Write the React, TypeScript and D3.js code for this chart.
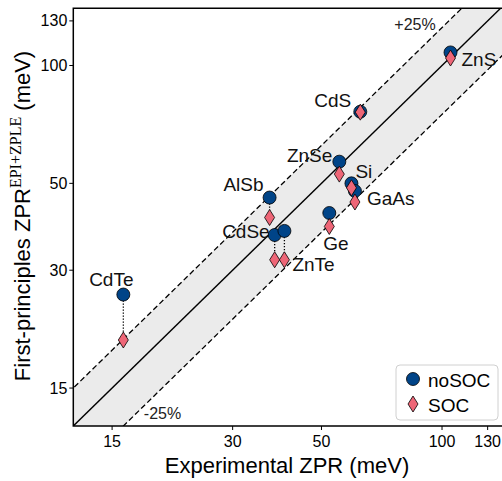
import React from 'react';
import * as d3 from 'd3';

// values (meV)
const materials = ['ZnS', 'CdS', 'ZnSe', 'Si', 'GaAs', 'Ge', 'AlSb', 'CdSe', 'ZnTe', 'CdTe'];
const expZpr = [105, 62.5, 55.4, 59.4, 60.6, 52.3, 37.1, 38.2, 40.4, 16.0];
const noSocZpr = [108, 76.2, 56.8, 50.0, 47.8, 42.0, 46.0, 36.9, 37.8, 26.0];
const socZpr = [104.5, 76, 52.8, 48.7, 44.8, 38.8, 40.9, 31.9, 31.9, 19.9];
const tickValues = [15, 30, 50, 100, 130];
const legendLabels = ['noSOC', 'SOC'];

// label placement relative to the noSOC marker (pixels)
const labelPos: Record<string, [number, number, string]> = {
  ZnS: [11, 7, 'start'],
  CdS: [-9, -11, 'end'],
  ZnSe: [-7, -6, 'end'],
  Si: [4, -12, 'start'],
  GaAs: [12, 7, 'start'],
  Ge: [-6, 30, 'start'],
  AlSb: [-6, -13, 'end'],
  CdSe: [-5, -4, 'end'],
  ZnTe: [8, 34, 'start'],
  CdTe: [-12, -15, 'middle'],
};

const BLUE = '#004488';
const PINK = '#ee6677';
const FONT = '"Liberation Sans", Arial, sans-serif';

const diamond = (cx: number, cy: number) => {
  const h = 8, w = 5;
  return `M${cx},${cy - h}L${cx + w},${cy}L${cx},${cy + h}L${cx - w},${cy}Z`;
};

const App = () => {
  const left = 73.3, right = 503, top = 8.3, bottom = 426;
  const x = d3.scaleLog().domain([12, 142]).range([left, right]);
  const y = d3.scaleLog().domain([12, 140]).range([bottom, top]);

  const lo = 12, hi = 150;
  const band = [
    [x(lo), y(lo * 1.25)], [x(hi), y(hi * 1.25)],
    [x(hi), y(hi * 0.75)], [x(lo), y(lo * 0.75)],
  ];
  const line = d3.line();

  return (
    <svg width={502} height={481} style={{ position: 'absolute', left: 0, top: 0, background: '#fff' }}
      fontFamily={FONT}>
      <defs>
        <clipPath id="plot">
          <rect x={left} y={top} width={right - left} height={bottom - top} />
        </clipPath>
      </defs>
      <g clipPath="url(#plot)">
        <path d={line(band as [number, number][]) + 'Z'} fill="#ebebeb" />
        <line x1={x(lo)} y1={y(lo)} x2={x(hi)} y2={y(hi)} stroke="#000" strokeWidth={1.4} />
        {[1.25, 0.75].map(f => (
          <line key={f} x1={x(lo / 2)} y1={y(lo / 2 * f)} x2={x(hi)} y2={y(hi * f)}
            stroke="#000" strokeWidth={1.3} strokeDasharray="5.5,3" />
        ))}
        {materials.map((m, i) => (
          <line key={m} x1={x(expZpr[i])} x2={x(expZpr[i])} y1={y(noSocZpr[i])} y2={y(socZpr[i])}
            stroke="#000" strokeWidth={1.3} strokeDasharray="1.3,1.7" />
        ))}
        {materials.map((m, i) => (
          <circle key={m} cx={x(expZpr[i])} cy={y(noSocZpr[i])} r={6.5} fill={BLUE} stroke="#000" strokeWidth={0.8} />
        ))}
        {materials.map((m, i) => (
          <path key={m} d={diamond(x(expZpr[i]), y(socZpr[i]))} fill={PINK} stroke="#000" strokeWidth={0.8} />
        ))}
      </g>
      {materials.map((m, i) => {
        const [dx, dy, anchor] = labelPos[m];
        return (
          <text key={m} x={x(expZpr[i]) + dx} y={y(noSocZpr[i]) + dy} fontSize={19}
            textAnchor={anchor} dominantBaseline="central" fill="#111">{m}</text>
        );
      })}
      <text x={x(76)} y={y(127)} fontSize={16} dominantBaseline="central" fill="#222">+25%</text>
      <text x={x(18)} y={y(12.95)} fontSize={16} dominantBaseline="central" fill="#222">-25%</text>

      {/* spines */}
      <path d={`M${right},${top}H${left}V${bottom}H${right}`} fill="none" stroke="#000" strokeWidth={1.5} />

      {/* ticks */}
      {tickValues.map(t => (
        <g key={'x' + t}>
          <line x1={x(t)} x2={x(t)} y1={bottom} y2={bottom + 4} stroke="#000" />
          <text x={x(t)} y={bottom + 15} fontSize={16} textAnchor="middle" dominantBaseline="central">{t}</text>
        </g>
      ))}
      {tickValues.map(t => (
        <g key={'y' + t}>
          <line x1={left - 4} x2={left} y1={y(t)} y2={y(t)} stroke="#000" />
          <text x={left - 6} y={y(t)} fontSize={16} textAnchor="end" dominantBaseline="central">{t}</text>
        </g>
      ))}

      <text x={287} y={465} fontSize={22} textAnchor="middle" dominantBaseline="central">Experimental ZPR (meV)</text>
      <text transform="translate(30,216) rotate(-90)" fontSize={22} textAnchor="middle">
        First-principles ZPR
        <tspan fontFamily='"Liberation Serif", "DejaVu Serif", serif' fontSize={16} dy={-9}>EPI+ZPLE</tspan>
        <tspan dy={9}> (meV)</tspan>
      </text>

      {/* legend */}
      <rect x={396} y={365} width={102} height={55} rx={4} fill="#fff" fillOpacity={0.85} stroke="#d0d0d0" />
      <circle cx={413} cy={379} r={6.5} fill={BLUE} stroke="#000" strokeWidth={0.8} />
      <path d={diamond(413, 404)} fill={PINK} stroke="#000" strokeWidth={0.8} />
      <text x={428} y={380} fontSize={19} dominantBaseline="central">{legendLabels[0]}</text>
      <text x={428} y={405} fontSize={19} dominantBaseline="central">{legendLabels[1]}</text>
    </svg>
  );
};

export default App;
